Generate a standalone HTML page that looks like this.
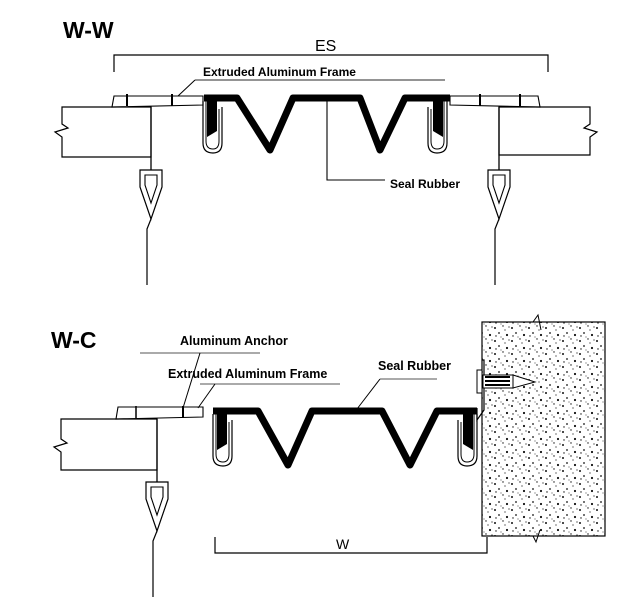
<!DOCTYPE html>
<html><head><meta charset="utf-8"><style>
html,body{margin:0;padding:0;background:#fff}
svg{display:block}
text{font-family:"Liberation Sans",sans-serif;fill:#000}
</style></head><body>
<svg width="643" height="608" viewBox="0 0 643 608" xmlns="http://www.w3.org/2000/svg">
<defs>
<pattern id="dots" width="17" height="13" patternUnits="userSpaceOnUse">
<circle cx="2" cy="3" r="1" fill="#111"/><circle cx="10" cy="1" r="0.7" fill="#111"/>
<circle cx="6" cy="8" r="0.9" fill="#111"/><circle cx="14" cy="10" r="1.1" fill="#111"/>
<circle cx="12" cy="5" r="0.6" fill="#111"/><circle cx="3" cy="11" r="0.7" fill="#111"/>
<circle cx="16" cy="2" r="0.6" fill="#111"/><circle cx="8" cy="12" r="0.5" fill="#111"/>
</pattern>
<g id="anchor">
<line x1="0" y1="0" x2="0" y2="63" stroke="#000" stroke-width="1.3"/>
<path d="M-11 63 L11 63 L11 80 L0 112 L-11 80 Z" fill="none" stroke="#000" stroke-width="1.2"/>
<path d="M-6 68 L6 68 L6 78 L0 96 L-6 78 Z" fill="none" stroke="#000" stroke-width="1.1"/>
<polyline points="0,112 -4,122 -4,178" fill="none" stroke="#000" stroke-width="1.2"/>
</g>
<g id="clip">
<path d="M0 0 L0 42 Q0 52 10 52 Q19 52 19 42 L19 6" fill="none" stroke="#000" stroke-width="1.2"/>
<path d="M3 0 L3 40 Q3 48 10 48 Q16 48 16 40 L16 8" fill="none" stroke="#000" stroke-width="1"/>
<path d="M4 0 L14 0 L14 30 L4 36 Z" fill="#000"/>
</g>
</defs>

<!-- ===== W-W ===== -->
<text x="63" y="38" font-size="23" font-weight="bold">W-W</text>
<text x="315" y="51" font-size="16">ES</text>
<polyline points="114,72 114,55 548,55 548,72" fill="none" stroke="#000" stroke-width="1.2"/>
<text x="203" y="76" font-size="12" font-weight="bold">Extruded Aluminum Frame</text>
<line x1="195" y1="80" x2="445" y2="80" stroke="#555" stroke-width="1.2"/>
<line x1="195" y1="80" x2="178" y2="96" stroke="#000" stroke-width="1"/>

<polyline points="112,107 151,107 151,157 62,157 62,137 55,132 68,128 62,124 62,107 112,107" fill="none" stroke="#000" stroke-width="1.2"/>
<path d="M112 107 L114 96 L203 96 L203 105 L112 107 Z" fill="none" stroke="#000" stroke-width="1.1"/>
<line x1="127" y1="94" x2="127" y2="106" stroke="#000" stroke-width="2"/>
<line x1="172" y1="94" x2="172" y2="106" stroke="#000" stroke-width="2"/>
<use href="#anchor" x="151" y="107"/>
<polyline points="540,107 499,107 499,155 590,155 590,137 597,132 584,128 590,124 590,107 540,107" fill="none" stroke="#000" stroke-width="1.2"/>
<path d="M540 107 L538 96 L450 96 L450 105 L540 107 Z" fill="none" stroke="#000" stroke-width="1.1"/>
<line x1="520" y1="94" x2="520" y2="106" stroke="#000" stroke-width="2"/>
<line x1="480" y1="94" x2="480" y2="106" stroke="#000" stroke-width="2"/>
<use href="#anchor" x="499" y="107"/>

<polyline points="204,98 237,98 270,150 293,98 360,98 380,150 405,98 450,98" fill="none" stroke="#000" stroke-width="7" stroke-linejoin="round"/>
<use href="#clip" x="203" y="101"/>
<use href="#clip" transform="translate(447,101) scale(-1,1)"/>
<polyline points="327,101 327,180 385,180" fill="none" stroke="#000" stroke-width="1.1"/>
<text x="390" y="188" font-size="12" font-weight="bold">Seal Rubber</text>

<!-- ===== W-C ===== -->
<text x="51" y="348" font-size="23" font-weight="bold">W-C</text>
<text x="180" y="345" font-size="12.5" font-weight="bold">Aluminum Anchor</text>
<line x1="140" y1="353" x2="260" y2="353" stroke="#555" stroke-width="1"/>
<line x1="200" y1="353" x2="183" y2="408" stroke="#000" stroke-width="1"/>
<text x="168" y="378" font-size="12.5" font-weight="bold">Extruded Aluminum Frame</text>
<line x1="200" y1="384" x2="340" y2="384" stroke="#555" stroke-width="1"/>
<line x1="215" y1="384" x2="198" y2="408" stroke="#000" stroke-width="1"/>
<text x="378" y="370" font-size="12.5" font-weight="bold">Seal Rubber</text>
<line x1="380" y1="379" x2="437" y2="379" stroke="#555" stroke-width="1"/>
<line x1="380" y1="379" x2="357" y2="409" stroke="#000" stroke-width="1"/>

<polyline points="116,419 157,419 157,470 61,470 61,452 54,447 67,443 61,439 61,419 116,419" fill="none" stroke="#000" stroke-width="1.2"/>
<path d="M116 419 L118 407 L203 407 L203 417 L116 419 Z" fill="none" stroke="#000" stroke-width="1.1"/>
<line x1="136" y1="406" x2="136" y2="418" stroke="#000" stroke-width="1.5"/>
<line x1="183" y1="406" x2="183" y2="418" stroke="#000" stroke-width="2"/>
<use href="#anchor" x="157" y="419"/>

<polyline points="213,411 258,411 288,465 312,411 382,411 410,465 437,411 477,411" fill="none" stroke="#000" stroke-width="7" stroke-linejoin="round"/>
<use href="#clip" x="213" y="414"/>
<use href="#clip" transform="translate(477,414) scale(-1,1)"/>
<path d="M477 408 L477 420 L484 410 L484 360 L482 360" fill="none" stroke="#000" stroke-width="1.2"/>

<rect x="482" y="322" width="123" height="214" fill="url(#dots)" stroke="#000" stroke-width="1.2"/>
<polyline points="533,322 538,315 541,330" fill="none" stroke="#000" stroke-width="1"/>
<polyline points="533,536 536,542 540,530" fill="none" stroke="#000" stroke-width="1"/>
<rect x="483" y="375" width="30" height="13" fill="#fff" stroke="#000" stroke-width="1"/>
<path d="M485 377 L510 377 M485 381 L510 381 M485 385 L510 385" stroke="#000" stroke-width="2"/>
<path d="M513 375 L535 382 L513 388 Z" fill="#fff" stroke="#000" stroke-width="1"/>
<rect x="477" y="370" width="5" height="23" fill="#fff" stroke="#000" stroke-width="1"/>

<polyline points="215,537 215,553 487,553 487,537" fill="none" stroke="#000" stroke-width="1.2"/>
<text x="336" y="549" font-size="14">W</text>
</svg>
</body></html>
